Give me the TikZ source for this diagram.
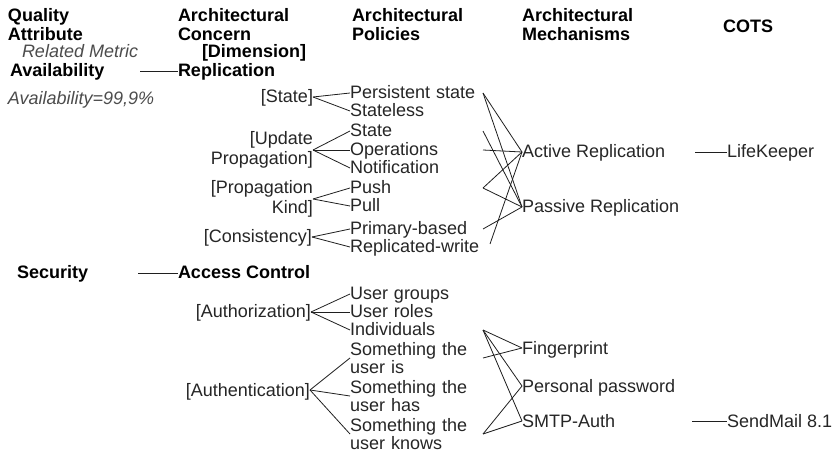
\documentclass[tikz,border=0pt]{standalone}
\usepackage{fontspec}
\setmainfont{Liberation Sans}
\definecolor{txt}{gray}{0.15}
\definecolor{metc}{gray}{0.30}
\definecolor{lnc}{gray}{0.12}
\begin{document}
\begin{tikzpicture}[x=1pt,y=-1pt,
  every node/.style={inner sep=0pt, outer sep=0pt, text=txt,
    font=\fontsize{18}{19.5}\selectfont},
  hd/.style={anchor=north west, align=left, text=black,
    font=\fontsize{18}{19.5}\selectfont\bfseries},
  bl/.style={anchor=west, text=black, text height=12, text depth=0,
    font=\fontsize{18}{19.5}\selectfont\bfseries},
  met/.style={anchor=west, text=metc, text height=12, text depth=0,
    font=\fontsize{18}{19.5}\selectfont\itshape},
  dim/.style={anchor=east, align=right},
  dim1/.style={anchor=east, text height=12, text depth=0},
  pol/.style={anchor=west, text width=133pt, align=left, text height=12, text depth=0},
  pol2/.style={anchor=west, text width=133pt, align=left,
    font=\fontsize{18}{18.5}\selectfont},
  mech/.style={anchor=west, text height=12, text depth=0},
  link/.style={draw=lnc, line width=0.8pt}
]
\fill[white] (0,0) rectangle (838,454);
\useasboundingbox (0,0) rectangle (838,454);

% column headings
\node[hd] (h1) at (8,8) {Quality\\Attribute};
\node[hd] (h2) at (178,8) {Architectural\\Concern};
\node[hd] (h3) at (352,8) {Architectural\\Policies};
\node[hd] (h4) at (522,8) {Architectural\\Mechanisms};
\node[bl, anchor=center] (h5) at (748,27) {COTS};
\node[met] (rm) at (22,52) {Related Metric};
\node[bl] (dm) at (202,52) {[Dimension]};

% availability branch
\node[bl] (qa1) at (10,71) {Availability};
\node[bl] (ac1) at (178,71) {Replication};
\coordinate (qa1r) at (140,71);
\draw[link] (qa1r) -- (ac1.west);
\node[met] (m1) at (8,99) {Availability=99,9\%};

\node[dim1] (d1) at (313,97) {[State]};
\node[dim] (d2) at (313,150) {[Update\\Propagation]};
\node[dim] (d3) at (313,199) {[Propagation\\Kind]};
\node[dim1] (d4) at (312,237) {[Consistency]};

\node[pol] (p1) at (350,93) {Persistent state};
\node[pol] (p2) at (350,111) {Stateless};
\node[pol] (p3) at (350,131) {State};
\node[pol] (p4) at (350,150) {Operations};
\node[pol] (p5) at (350,168) {Notification};
\node[pol] (p6) at (350,188) {Push};
\node[pol] (p7) at (350,206) {Pull};
\node[pol] (p8) at (350,229) {Primary-based};
\node[pol] (p9) at (350,247) {Replicated-write};

\foreach \d/\p in {d1/p1,d1/p2,d2/p3,d2/p4,d2/p5,d3/p6,d3/p7,d4/p8,d4/p9}
  \draw[link] (\d.east) -- (\p.west);

\node[mech] (k1) at (522,152) {Active Replication};
\node[mech] (k2) at (522,207) {Passive Replication};
\node[mech] (c1) at (727,152) {LifeKeeper};
\coordinate (c1l) at (695,152);
\draw[link] (c1l) -- (c1.west);

\draw[link] (p1.east) -- (k1.west);
\draw[link] (p1.east) -- (k2.west);
\draw[link] (p3.east) -- (k2.west);
\draw[link] (p4.east) -- (k1.west);
\draw[link] (p6.east) -- (k1.west);
\draw[link] (p6.east) -- (k2.west);
\draw[link] (p8.east) -- (k2.west);
\draw[link] ([xshift=7pt,yshift=3pt]p9.east) -- (k1.west);

% security branch
\node[bl] (qa2) at (17,273) {Security};
\node[bl] (ac2) at (178,273) {Access Control};
\coordinate (qa2r) at (138,273);
\draw[link] (qa2r) -- (ac2.west);

\node[dim1] (d5) at (311,312) {[Authorization]};
\node[dim1] (d6) at (310,390) {[Authentication]};

\node[pol] (p10) at (350,294) {User groups};
\node[pol] (p11) at (350,312) {User roles};
\node[pol] (p12) at (350,330) {Individuals};
\node[pol2] (p13) at (350,358) {Something the\\user is};
\node[pol2] (p14) at (350,396) {Something the\\user has};
\node[pol2] (p15) at (350,434) {Something the\\user knows};

\foreach \d/\p in {d5/p10,d5/p11,d5/p12,d6/p13,d6/p14,d6/p15}
  \draw[link] (\d.east) -- (\p.west);

\node[mech] (k3) at (522,348) {Fingerprint};
\node[mech] (k4) at (522,386) {Personal password};
\node[mech] (k5) at (522,421) {SMTP-Auth};
\node[mech] (c2) at (727,421) {SendMail 8.1};
\coordinate (c2l) at (692,421);
\draw[link] (c2l) -- (c2.west);

\draw[link] (p12.east) -- (k3.west);
\draw[link] (p12.east) -- (k4.west);
\draw[link] (p12.east) -- (k5.west);
\draw[link] (p13.east) -- (k3.west);
\draw[link] (p15.east) -- (k4.west);
\draw[link] (p15.east) -- (k5.west);
\end{tikzpicture}
\end{document}
